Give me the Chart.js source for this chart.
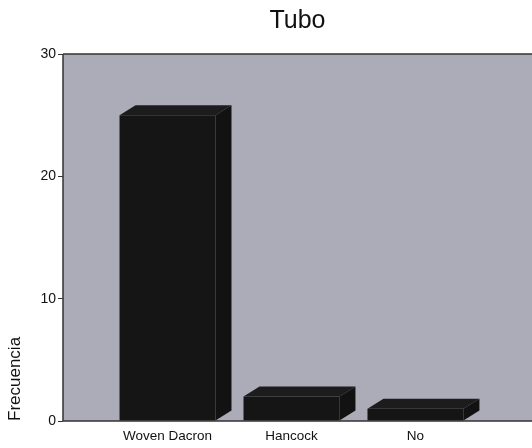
<!DOCTYPE html>
<html>
<head>
<meta charset="utf-8">
<script src="https://cdn.jsdelivr.net/npm/chart.js@4/dist/chart.umd.min.js"></script>
<style>
  body { margin: 0; background: #fff; }
  canvas { display: block; }
</style>
</head>
<body>
<canvas id="myChart" width="532" height="448"></canvas>
<script>
const categories = ['Woven Dacron', 'Hancock', 'No'];
const frecuencia = [25, 2, 1];
const yTicks = [0, 10, 20, 30];

const FONT = "'Liberation Sans', Arial, sans-serif";

let data = [];
for (let i = 0; i < categories.length; i++) {
  data.push({x: i + 1, y: frecuencia[i]});
}

// Plugin: grey plot background, 3D bar faces, frame lines
const box3d = {
  id: 'box3d',
  beforeDatasetsDraw(chart) {
    const { ctx, chartArea: a } = chart;
    ctx.save();
    ctx.fillStyle = '#acacb9';
    ctx.fillRect(a.left, a.top, a.right - a.left, a.bottom - a.top);
    ctx.restore();
  },
  afterDatasetsDraw(chart) {
    const { ctx } = chart;
    const dx = 16, dy = 10;
    ctx.save();
    chart.getDatasetMeta(0).data.forEach(bar => {
      const l = bar.x - bar.width / 2, r = bar.x + bar.width / 2;
      const t = bar.y, b = bar.base;
      // top face
      ctx.beginPath();
      ctx.moveTo(l, t);
      ctx.lineTo(l + dx, t - dy);
      ctx.lineTo(r + dx, t - dy);
      ctx.lineTo(r, t);
      ctx.closePath();
      ctx.fillStyle = '#1c1c1c';
      ctx.fill();
      // side face
      ctx.beginPath();
      ctx.moveTo(r, t);
      ctx.lineTo(r + dx, t - dy);
      ctx.lineTo(r + dx, b - dy);
      ctx.lineTo(r, b);
      ctx.closePath();
      ctx.fillStyle = '#121212';
      ctx.fill();
    });
    ctx.restore();
  },
  afterDraw(chart) {
    const { ctx, chartArea: a } = chart;
    ctx.save();
    ctx.strokeStyle = '#333';
    ctx.lineWidth = 1.5;
    ctx.beginPath();
    ctx.moveTo(a.left, a.top);
    ctx.lineTo(a.right, a.top);
    ctx.moveTo(a.left, a.top);
    ctx.lineTo(a.left, a.bottom);
    ctx.lineTo(a.right, a.bottom);
    ctx.stroke();
    ctx.restore();
  }
};

const config = {
  type: 'bar',
  data: {
    datasets: [{
      label: 'Frecuencia',
      data: data,
      backgroundColor: '#151515',
      borderWidth: 0,
      barPercentage: 0.774,
      categoryPercentage: 1
    }]
  },
  options: {
    responsive: false,
    animation: false,
    devicePixelRatio: 1,
    layout: { padding: 0 },
    plugins: {
      legend: { display: false },
      tooltip: { enabled: false },
      title: {
        display: true,
        text: 'Tubo',
        fullSize: false,
        color: '#111',
        font: { family: FONT, size: 25, weight: 'normal' },
        padding: { top: 6, bottom: 18 }
      }
    },
    scales: {
      x: {
        type: 'linear',
        offset: false,
        min: 0.157,
        max: 3.94,
        afterBuildTicks: axis => { axis.ticks = categories.map((c, i) => ({value: i + 1})); },
        afterFit: axis => { axis.height = 27; },
        grid: { display: false, drawTicks: false, offset: false },
        border: { display: false },
        ticks: {
          padding: 7,
          autoSkip: false,
          maxRotation: 0,
          color: '#111',
          font: { family: FONT, size: 13.5 },
          callback: v => categories[Math.round(v) - 1] || ''
        }
      },
      y: {
        min: 0,
        max: 30,
        afterBuildTicks: axis => { axis.ticks = yTicks.map(v => ({value: v})); },
        afterFit: axis => { axis.width = 63; },
        grid: { drawOnChartArea: false, drawTicks: true, tickLength: 5, color: '#333' },
        border: { display: false },
        ticks: {
          padding: 2,
          color: '#111',
          font: { family: FONT, size: 14 }
        },
        title: {
          display: true,
          text: 'Frecuencia',
          align: 'start',
          color: '#111',
          font: { family: FONT, size: 17 },
          padding: { top: 5, bottom: 0 }
        }
      }
    }
  },
  plugins: [box3d]
};

const myChart = new Chart(document.getElementById('myChart'), config);
</script>
</body>
</html>
